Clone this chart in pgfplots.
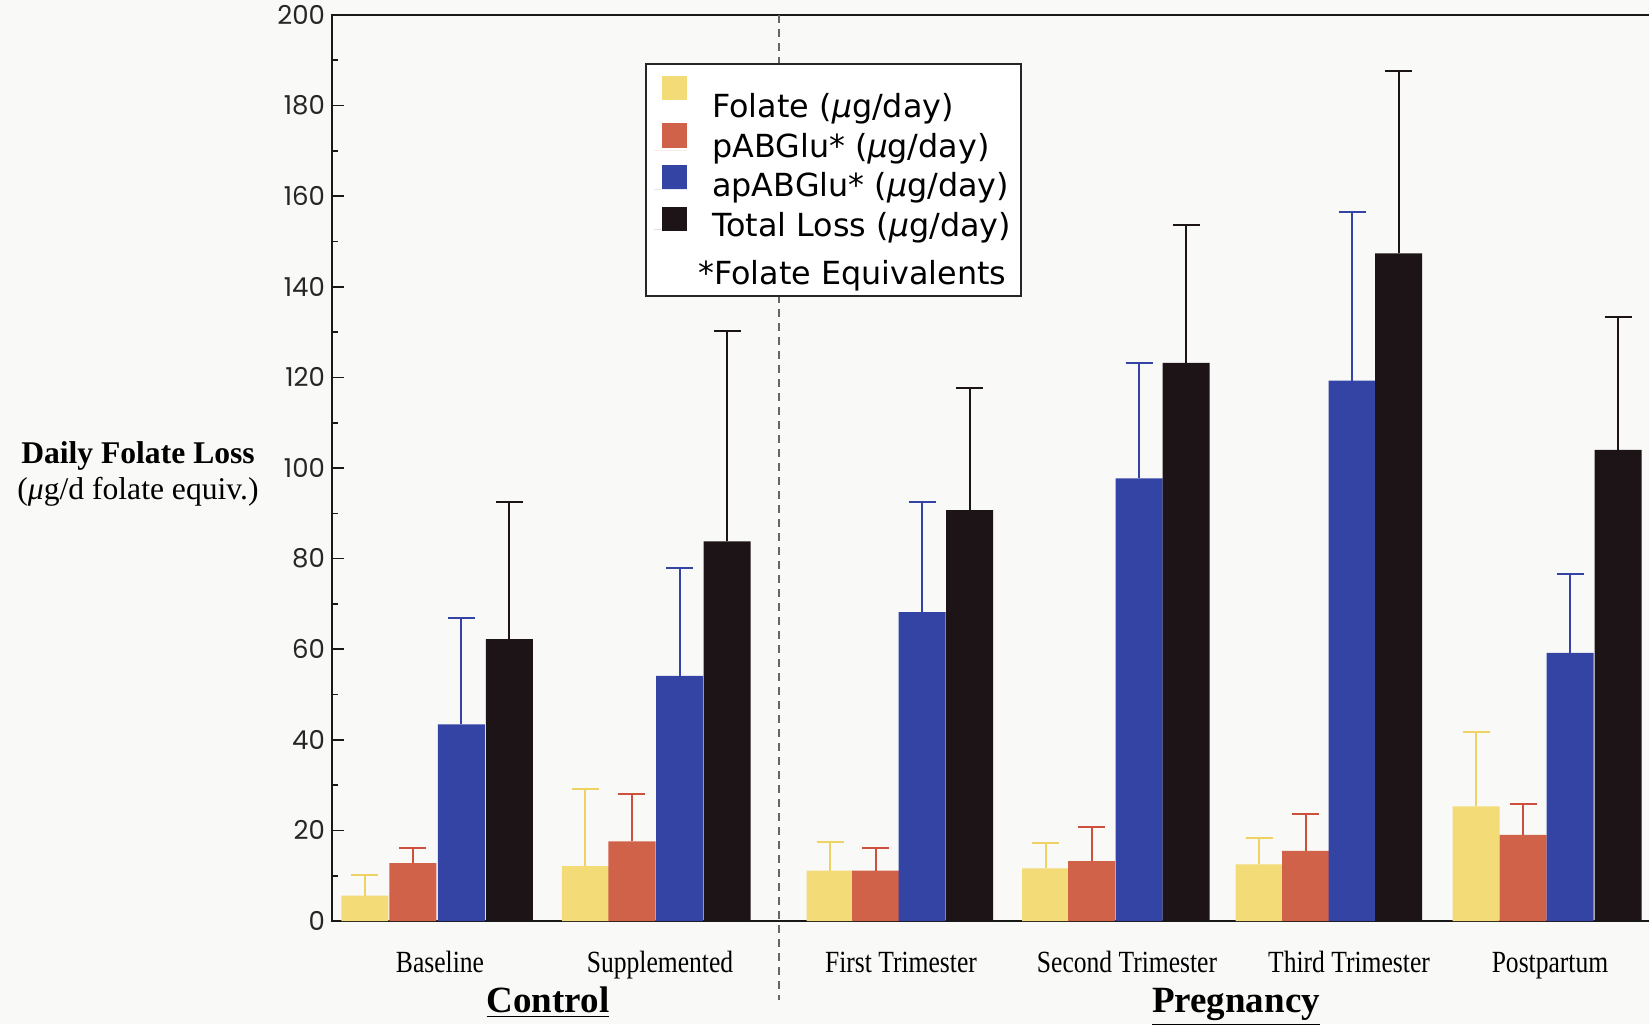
\documentclass[border=0pt]{standalone}
\usepackage{pgfplots}
\pgfplotsset{compat=1.18}
\usepackage{pgfplotstable}
\usepackage{fontspec}
\setmainfont{Liberation Serif}
\newfontfamily\legfont{DejaVu Sans}
\newfontfamily\tickfont{Poppins}
\newfontfamily\catfont[FakeStretch=0.83]{Liberation Serif}
\definecolor{bg}{RGB}{249,249,247}
\definecolor{cY}{RGB}{243,219,120}
\definecolor{cYe}{RGB}{238,210,100}
\definecolor{cR}{RGB}{208,98,74}
\definecolor{cRe}{RGB}{205,80,62}
\definecolor{cB}{RGB}{52,68,165}
\definecolor{cK}{RGB}{28,20,22}

\pgfplotstableread{
x y e
365 5.6 4.6
585.5 12.1 17.1
830 11.1 6.3
1045.5 11.6 5.6
1259 12.5 5.8
1476 25.3 16.5
}\folate
\pgfplotstableread{
x y e
413 12.8 3.4
632 17.6 10.5
875.5 11.1 5.1
1091.5 13.2 7.5
1305.5 15.5 8.2
1523 19.0 6.8
}\pab
\pgfplotstableread{
x y e
461.5 43.4 23.4
679.5 54.1 23.9
922 68.2 24.2
1139 97.7 25.5
1352 119.3 37.3
1570 59.2 17.4
}\apab
\pgfplotstableread{
x y e
509.5 62.2 30.2
727 83.8 46.4
969.5 90.7 27.0
1186 123.2 30.4
1398.5 147.4 40.3
1618 104.0 29.4
}\total

\begin{document}
\begin{tikzpicture}
\fill[bg] (-166pt,-51.5pt) rectangle (658.5pt,460.5pt);
\begin{axis}[
  name=ax, at={(0,0)}, anchor=south west,
  scale only axis, width=669pt, height=453pt,
  xmin=332, xmax=1670, ymin=0, ymax=200,
  ybar, bar width=47,
  axis line style={line width=1pt, black!90},
  ytick distance=20, minor y tick num=1,
  tick align=inside, ytick pos=left, xtick pos=bottom,
  major tick length=6pt, minor tick length=3pt,
  tick style={line width=0.8pt, black!90},
  xtick={440,660,901,1127,1349,1550},
  xticklabels={Baseline, Supplemented, First Trimester, Second Trimester, Third Trimester, Postpartum},
  x tick style={draw=none},
  xticklabel style={anchor=base, yshift=-25.5pt, font=\catfont\fontsize{15.4}{17}\selectfont},
  yticklabel style={font=\tickfont\fontsize{13}{15}\selectfont, text=black!85},
  /pgf/number format/assume math mode=true,
  clip=false,
  legend cell align=left,
  legend style={at={(axis cs:645,189.4)}, anchor=north west, draw=black!85, line width=0.8pt, fill=white,
    font=\legfont\fontsize{15.9}{18}\selectfont, inner xsep=4pt, inner ysep=1pt, row sep=2.2pt,
    nodes={inner sep=1pt, text height=11.5pt, text depth=4pt},
    /tikz/every odd column/.append style={column sep=11.5pt}},
]
\draw[black!60, line width=1.4pt, dash pattern=on 4pt off 3pt] (axis cs:779,200) -- (axis cs:779,-17.5);

\addplot[fill=cY, draw=none, bar shift=0pt,
  legend image code/.code={\path (0pt,0pt) rectangle (16.75pt,0pt); \fill[cY,overlay] (4.25pt,-1.5pt) rectangle (16.75pt,10.5pt);},
  error bars/.cd, y dir=plus, y explicit,
  error bar style={cYe, line width=1pt}, error mark options={cYe, line width=1pt, mark size=6.75pt, rotate=90}]
  table[x=x, y=y, y error=e]{\folate};
\addplot[fill=cR, draw=none, bar shift=0pt,
  legend image code/.code={\path (0pt,0pt) rectangle (16.75pt,0pt); \fill[cR,overlay] (4.25pt,1pt) rectangle (16.75pt,13.5pt);},
  error bars/.cd, y dir=plus, y explicit,
  error bar style={cRe, line width=1pt}, error mark options={cRe, line width=1pt, mark size=6.75pt, rotate=90}]
  table[x=x, y=y, y error=e]{\pab};
\addplot[fill=cB, draw=none, bar shift=0pt,
  legend image code/.code={\path (0pt,0pt) rectangle (16.75pt,0pt); \fill[cB,overlay] (4.25pt,-0.1pt) rectangle (16.75pt,11.9pt);},
  error bars/.cd, y dir=plus, y explicit,
  error bar style={cB, line width=1pt}, error mark options={cB, line width=1pt, mark size=6.75pt, rotate=90}]
  table[x=x, y=y, y error=e]{\apab};
\addplot[fill=cK, draw=none, bar shift=0pt,
  legend image code/.code={\path (0pt,0pt) rectangle (16.75pt,0pt); \fill[cK,overlay] (4.25pt,-1.4pt) rectangle (16.75pt,10.6pt);},
  error bars/.cd, y dir=plus, y explicit,
  error bar style={cK, line width=1pt}, error mark options={cK, line width=1pt, mark size=6.75pt, rotate=90}]
  table[x=x, y=y, y error=e]{\total};

\addlegendentry[text height=25pt]{Folate ({\itshape μ}g/day)}
\addlegendentry{pABGlu* ({\itshape μ}g/day)}
\addlegendentry{apABGlu* ({\itshape μ}g/day)}
\addlegendentry{Total Loss ({\itshape μ}g/day)}
\addlegendimage{empty legend}
\addlegendentry[text height=15.8pt]{\hspace*{-7pt}*Folate Equivalents}

\node[font=\fontsize{15.8}{18}\selectfont, align=center] at (axis cs:138,98.7)
  {\textbf{Daily Folate Loss}\\({\itshape μ}g/d folate equiv.)};
\node[anchor=base, font=\bfseries\fontsize{18.5}{20}\selectfont] at (axis cs:548,-20.3) {\underline{Control}};
\node[anchor=base, font=\bfseries\fontsize{18.5}{20}\selectfont] at (axis cs:1236,-20.3) {\underline{Pregnancy}};
\end{axis}
\pgfresetboundingbox
\useasboundingbox (-166pt,-51.5pt) rectangle (658.5pt,460.5pt);
\end{tikzpicture}
\end{document}
